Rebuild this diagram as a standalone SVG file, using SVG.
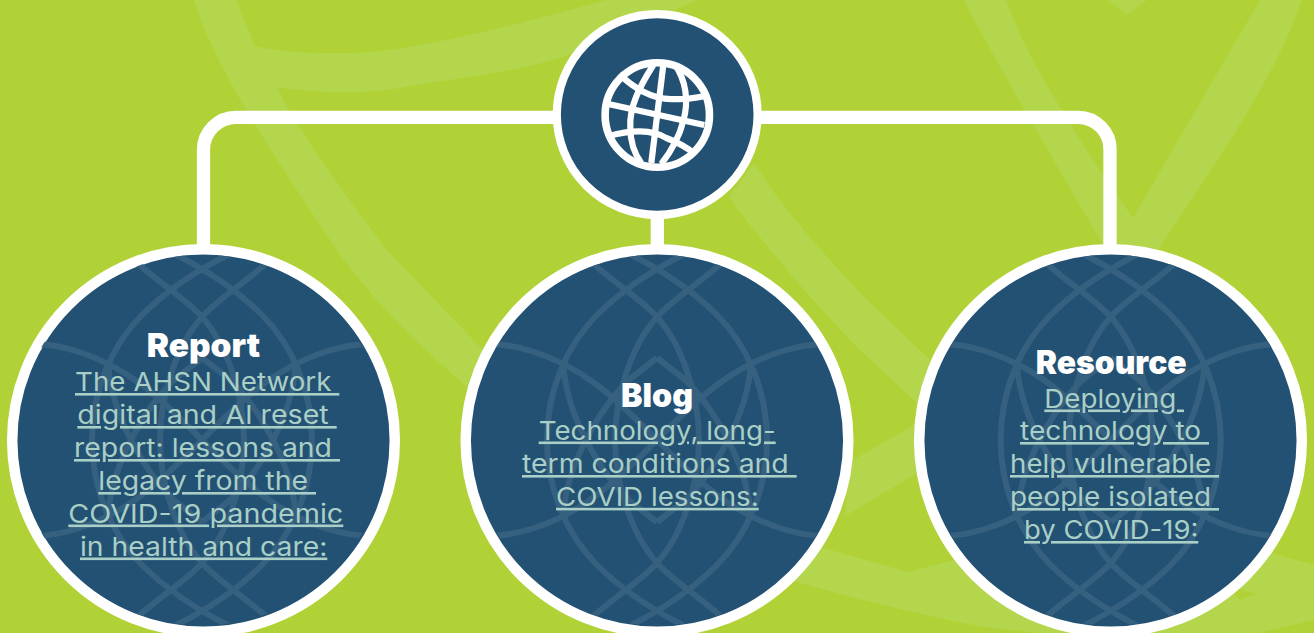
<svg xmlns="http://www.w3.org/2000/svg" width="1314" height="633" viewBox="0 0 1314 633">
<style>
.bg{fill:#b4d64c}
.link{fill:none;stroke:#fff;stroke-width:13.3}
.ring{fill:#235173;stroke:#fff;stroke-width:10.5}
.pat{fill:none;stroke:#36607f;stroke-width:6}
.g{fill:none;stroke:#fff;stroke-width:6.2}
.h{font-family:Inter,"Liberation Sans",sans-serif;font-weight:900;font-size:33px;fill:#fff;white-space:pre}
.t{font-family:Inter,"Liberation Sans",sans-serif;font-size:26px;fill:#a9cfc6;white-space:pre;text-decoration:underline;text-decoration-thickness:1.5px;text-decoration-skip-ink:none}
</style>
<defs>
<clipPath id="c"><circle r="185.5"/></clipPath>
<g id="motif" clip-path="url(#c)">
<g id="q"><path class="pat" d="M40 -192C10 -178 -30 -155 -60 -125C-90 -95 -110 -50 -110 0"/>
<path class="pat" d="M-66 -178C-40 -155 -15 -140 0 -123C25 -95 42 -45 42 0"/>
<path class="pat" d="M-190 -94C-150 -102 -100 -85 -60 -55C-35 -36 -15 -15 0 0"/>
<path class="pat" d="M0 -82L-26 -62C-50 -40 -92 20 -94 80"/></g>
<use href="#q" transform="scale(-1 1)"/><use href="#q" transform="scale(1 -1)"/><use href="#q" transform="scale(-1 -1)"/>
</g>
</defs>
<rect width="1314" height="633" fill="#b0d236"/>
<g id="background">
<path class="bg" d="M194 0C215 70 280 165 337 250C380 310 420 345 467 387C600 500 700 555 797 582C860 600 930 617 984 627L1039 633L1257 633L1314 620L1314 565L1267 552L1200 500L1000 540L954 560L908 572L824 548C700 510 570 450 480 347L387 250C345 195 305 140 276 87L255 46L236 0Z"/>
<path class="bg" d="M255 46C290 54 320 53 349 53C400 53 500 30 606 0L697 0C640 25 600 42 568 55C520 72 463 77 405 87C380 92 349 92 349 92C320 92 300 91 276 87Z"/>
<path class="bg" d="M964 0L1006 0C1020 38 1040 75 1060 107C1085 150 1110 185 1133 218L1260 0L1302 0C1270 90 1210 170 1158 250L1130 290L1102 243C1060 170 1000 70 964 0Z"/>
<path class="bg" d="M729 197L754 163C790 220 840 270 860 293L930 360L917 403L860 350C820 310 760 240 729 197Z"/>
<path class="bg" d="M850 462L917 423L917 473L845 516Z"/>
<path class="bg" d="M1108 0L1127 15L1147 0Z"/>
<path fill="#b0d236" d="M1225 585L1257 594L1240 600Z"/>
</g>
<g id="connectors">
<path class="link" d="M557 117.3H236A32.5 32.5 0 0 0 203.5 150V250"/>
<path class="link" d="M757 117.3H1078A32 32 0 0 1 1110 150V250"/>
<path class="link" d="M657.3 215V250"/>
</g>
<g id="hub">
<circle cx="657.2" cy="114.5" r="100.4" fill="#235173" stroke="#fff" stroke-width="8.2"/>
<g transform="translate(657.3 115)">
<circle class="g" r="52.2" style="stroke-width:7.6"/>
<path class="g" d="M-38 -41C-25 -28 -5 -15 16 -16C28 -15 38 -17 48 -19"/>
<path class="g" d="M-48 21C-28 15 -5 14 9 23C20 27 30 33 38 39"/>
<path class="g" d="M-49 -11L47 10"/>
<path class="g" d="M6 -50L-6 48"/>
<path class="g" d="M-4 -50C-18 -28 -28 -8 -27 12C-27 28 -22 40 -16 48"/>
<path class="g" d="M18 -50C28 -35 32 -15 26 6C22 22 14 36 4 49"/>
</g>
</g>
<g id="report">
<circle class="ring" cx="203.5" cy="440.5" r="191.3"/>
<use href="#motif" transform="translate(202 440)"/>
<text class="h" x="146.7" y="357" textLength="113.3" lengthAdjust="spacingAndGlyphs">Report</text>
<text class="t" x="75" y="391" textLength="264.3" lengthAdjust="spacingAndGlyphs">The AHSN Network </text>
<text class="t" x="77.3" y="424" textLength="259.4" lengthAdjust="spacingAndGlyphs">digital and AI reset </text>
<text class="t" x="74" y="457" textLength="266" lengthAdjust="spacingAndGlyphs">report: lessons and </text>
<text class="t" x="98.3" y="490" textLength="217.7" lengthAdjust="spacingAndGlyphs">legacy from the </text>
<text class="t" x="68.3" y="522.5" textLength="275" lengthAdjust="spacingAndGlyphs">COVID-19 pandemic</text>
<text class="t" x="80" y="555.5" textLength="247.3" lengthAdjust="spacingAndGlyphs">in health and care:</text>
</g>
<g id="blog">
<circle class="ring" cx="657" cy="440.5" r="191.3"/>
<use href="#motif" transform="translate(657 440)"/>
<text class="h" x="621" y="406.7" textLength="72" lengthAdjust="spacingAndGlyphs">Blog</text>
<text class="t" x="538.7" y="439.5" textLength="237" lengthAdjust="spacingAndGlyphs">Technology, long-</text>
<text class="t" x="522" y="473" textLength="274.7" lengthAdjust="spacingAndGlyphs">term conditions and </text>
<text class="t" x="556" y="505.8" textLength="202.7" lengthAdjust="spacingAndGlyphs">COVID lessons:</text>
</g>
<g id="resource">
<circle class="ring" cx="1110.5" cy="440.5" r="191.3"/>
<use href="#motif" transform="translate(1110.7 440)"/>
<text class="h" x="1035.7" y="374" textLength="151" lengthAdjust="spacingAndGlyphs">Resource</text>
<text class="t" x="1044.3" y="407.5" textLength="139.7" lengthAdjust="spacingAndGlyphs">Deploying </text>
<text class="t" x="1020" y="440" textLength="189" lengthAdjust="spacingAndGlyphs">technology to </text>
<text class="t" x="1010" y="473" textLength="209" lengthAdjust="spacingAndGlyphs">help vulnerable </text>
<text class="t" x="1010" y="506" textLength="209" lengthAdjust="spacingAndGlyphs">people isolated </text>
<text class="t" x="1024" y="539" textLength="174.3" lengthAdjust="spacingAndGlyphs">by COVID-19:</text>
</g>
</svg>
